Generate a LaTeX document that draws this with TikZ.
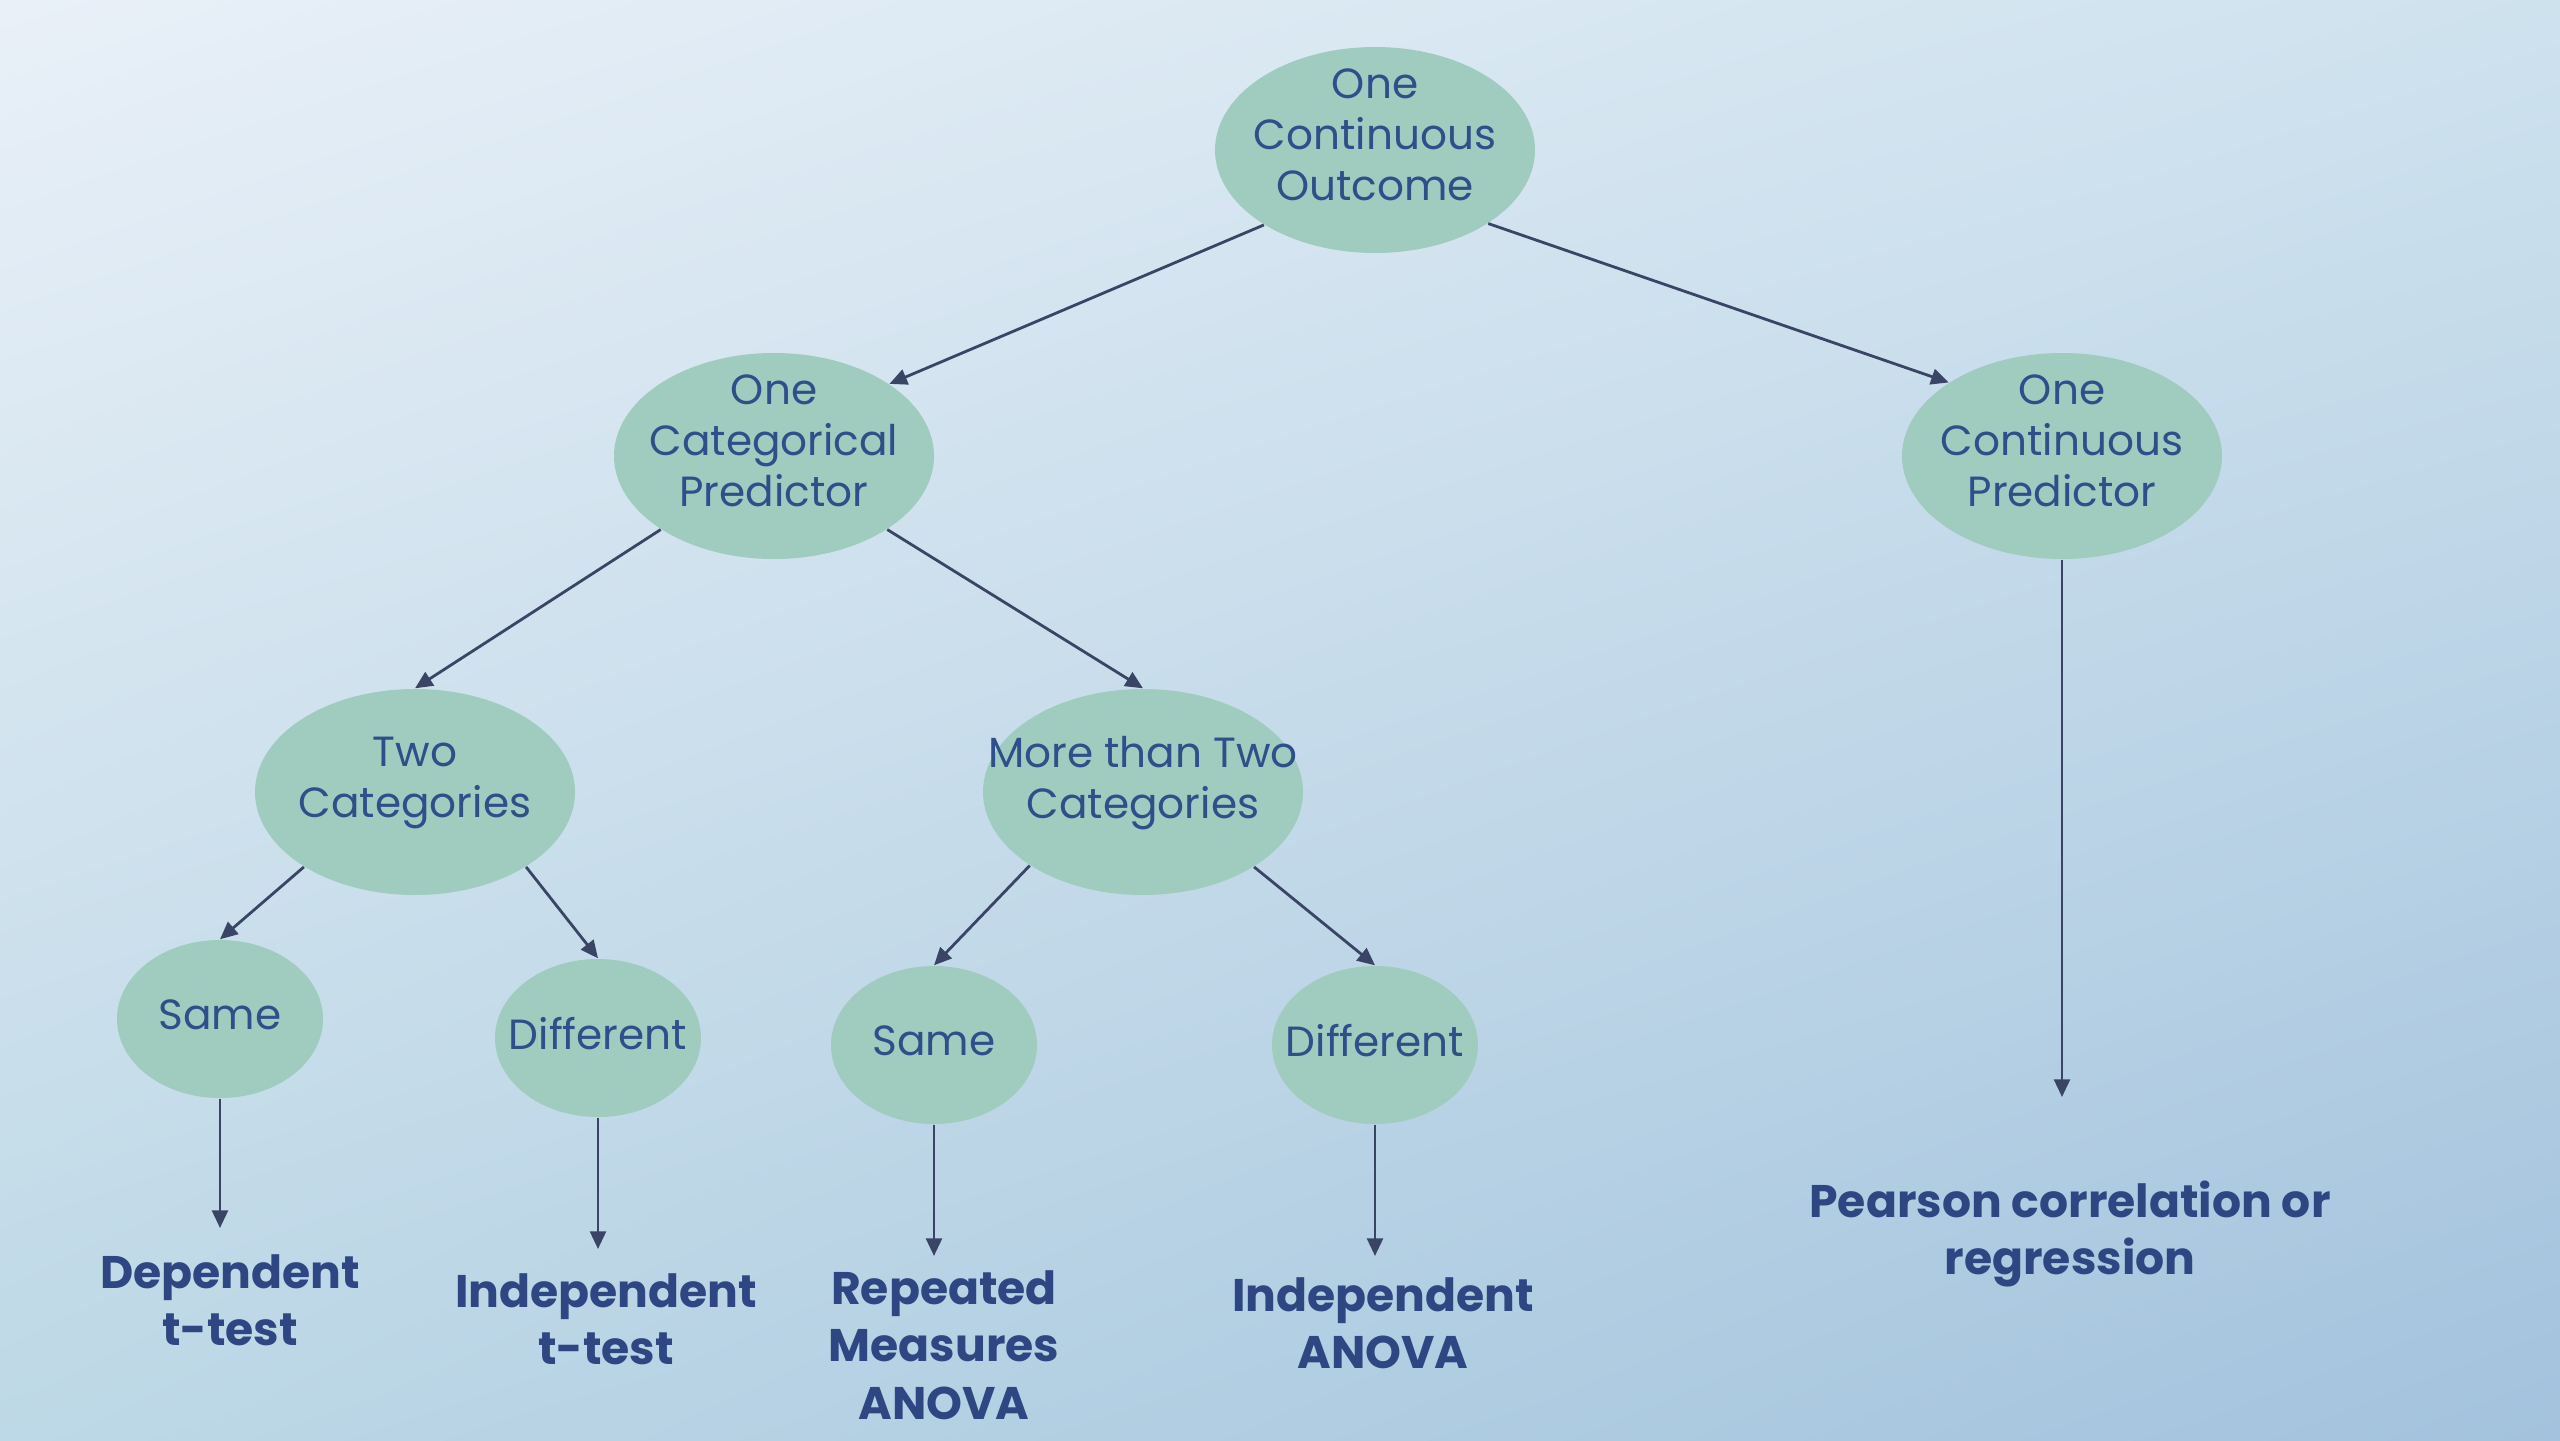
\documentclass[tikz,border=0pt]{standalone}
\usepackage{fontspec}
\setmainfont{Poppins}
\usetikzlibrary{arrows.meta,shapes.geometric,shadings}

\definecolor{bgtl}{RGB}{233,240,248}
\definecolor{bgtr}{RGB}{206,226,238}
\definecolor{bgbl}{RGB}{189,216,230}
\definecolor{bgbr}{RGB}{163,194,221}
\definecolor{leaf}{RGB}{160,203,191}
\definecolor{ink}{RGB}{47,79,138}
\definecolor{inkbold}{RGB}{46,70,130}
\definecolor{wire}{RGB}{58,69,101}

\begin{document}
\begin{tikzpicture}[
    line join=round,
    bignode/.style = {ellipse, fill=leaf, minimum width=3.2cm, minimum height=2.06cm, inner sep=0pt},
    smallnode/.style = {bignode, minimum width=2.06cm, minimum height=1.58cm},
    leaftext/.style = {align=center, text=ink, font=\fontsize{12}{14.5}\selectfont},
    threeline/.style = {leaftext, yshift=0.15cm},
    twoline/.style = {leaftext, yshift=0.09cm},
    oneline/.style = {leaftext, yshift=0.04cm},
    result/.style = {align=center, text=inkbold, font=\fontsize{13}{16.3}\selectfont\bfseries},
    link/.style = {wire, line width=0.8pt, -{Triangle[length=5pt, width=4.5pt]}}
]

\useasboundingbox (0, 0) rectangle (25.6, -14.4);
\shade[upper left=bgtl, upper right=bgtr, lower left=bgbl, lower right=bgbr] (0, 0) rectangle (25.6, -14.4);

\node[bignode, label={[threeline]center:One\\Continuous\\Outcome}] (outcome) at (13.75, -1.50) {};
\node[bignode, label={[threeline]center:One\\Categorical\\Predictor}] (catpred) at (7.74, -4.56) {};
\node[bignode, label={[threeline]center:One\\Continuous\\Predictor}] (conpred) at (20.62, -4.56) {};
\node[bignode, label={[twoline]center:Two\\Categories}] (twocat) at (4.15, -7.92) {};
\node[bignode, label={[twoline]center:More than Two\\Categories}] (morecat) at (11.43, -7.92) {};

\node[smallnode, label={[oneline]center:Same}] (same1) at (2.20, -10.19) {};
\node[smallnode, label={[oneline]center:Different}] (diff1) at (5.98, -10.38) {};
\node[smallnode, label={[oneline]center:Same}] (same2) at (9.34, -10.45) {};
\node[smallnode, label={[oneline]center:Different}] (diff2) at (13.75, -10.45) {};

\node[result] (deptt) at (2.30, -13.00) {Dependent\\t-test};
\node[result] (indtt) at (6.06, -13.19) {Independent\\t-test};
\node[result] (rmanova) at (9.44, -13.45) {Repeated\\Measures\\ANOVA};
\node[result] (indanova) at (13.83, -13.23) {Independent\\ANOVA};
\node[result] (pearson) at (20.70, -12.34) {Pearson correlation or\\regression};

\coordinate (deptip) at (2.20, -12.28);
\coordinate (indtip) at (5.98, -12.49);
\coordinate (rmtip) at (9.34, -12.56);
\coordinate (iatip) at (13.75, -12.56);
\coordinate (pctip) at (20.62, -10.97);

\draw[link] (outcome.-146) -- (catpred.32);
\draw[link] (outcome.-33) -- (conpred.147);
\draw[link] (catpred.-147) -- (twocat.north);
\draw[link] (catpred.-33) -- (morecat.north);
\draw[link] (twocat.-146) -- (same1.north);
\draw[link] (twocat.-34) -- (diff1.north);
\draw[link] (morecat.-147) -- (same2.north);
\draw[link] (morecat.-34) -- (diff2.north);

\draw[link] (same1.south) -- (deptip);
\draw[link] (diff1.south) -- (indtip);
\draw[link] (same2.south) -- (rmtip);
\draw[link] (diff2.south) -- (iatip);
\draw[link] (conpred.south) -- (pctip);

\end{tikzpicture}
\end{document}
